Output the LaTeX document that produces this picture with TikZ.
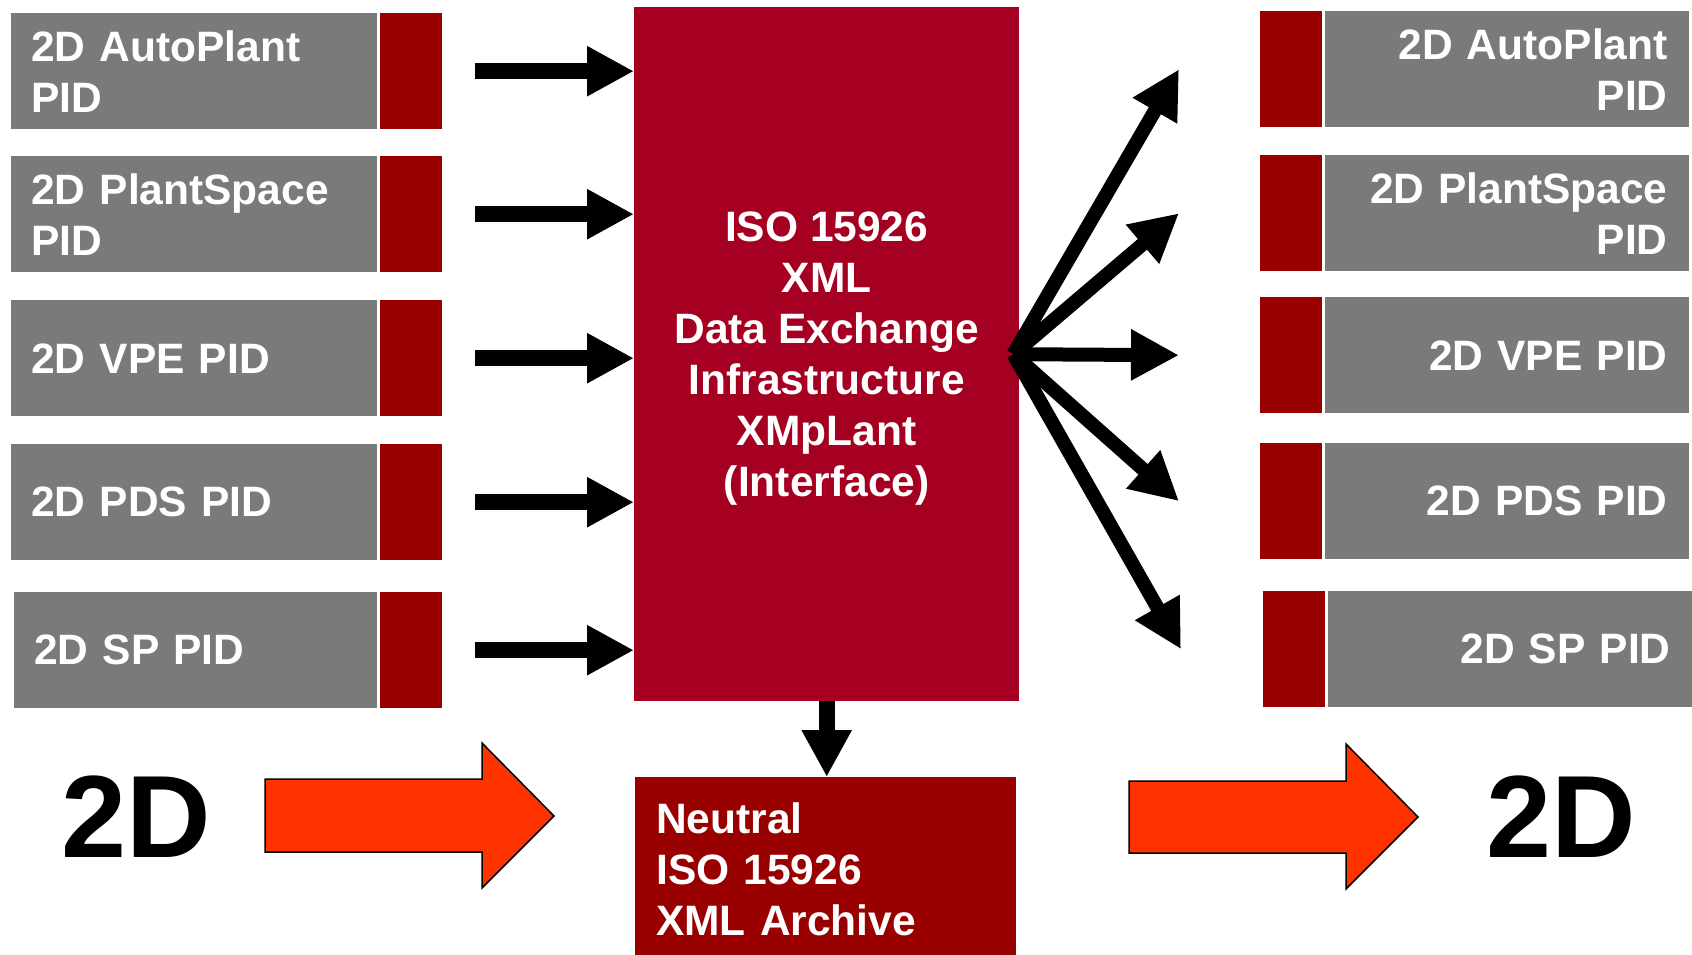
\documentclass[tikz,border=0pt]{standalone}
\usepackage{fontspec}
\setmainfont{Liberation Sans}
\usetikzlibrary{positioning,arrows.meta}
\definecolor{hubred}{RGB}{165,0,33}
\definecolor{tabred}{RGB}{153,0,0}
\definecolor{boxgray}{RGB}{122,122,122}
\definecolor{naranja}{RGB}{255,51,0}
\tikzset{
	txt/.style={font=\fontsize{42.5}{51}\selectfont\bfseries,text=white},
	srcbox/.style={txt,fill=boxgray,minimum height=116pt,inner xsep=20pt,inner ysep=0pt,text width=326pt,align=left,anchor=north west},
	dstbox/.style={txt,fill=boxgray,minimum height=116pt,inner xsep=21pt,inner ysep=0pt,text width=322pt,align=right},
	tabbox/.style={fill=tabred,minimum width=62pt,minimum height=116pt,inner sep=0pt},
	hubbox/.style={txt,fill=hubred,minimum width=385pt,minimum height=694pt,inner sep=0pt,text depth=0pt,align=center,anchor=north west},
	archbox/.style={txt,fill=tabred,minimum width=381pt,minimum height=185pt,inner xsep=21pt,inner ysep=0pt,text width=339pt,align=left,anchor=north west},
	flow/.style={line width=16pt,-{Triangle[length=47pt,width=47pt]}},
	fanarrow/.style={line width=14pt,-{Triangle[length=48pt,width=48pt]}},
	bigtext/.style={font=\fontsize{117}{117}\selectfont\bfseries,inner sep=0pt},
	bigarrow/.style={fill=naranja,draw=black,line width=1.5pt}
}
\begin{document}
\begin{tikzpicture}[x=1pt,y=-1pt]
			\useasboundingbox (0,0) rectangle (1692,955);

			% Entradas
			\node[srcbox] (srcA) at (11,13) {2D AutoPlant\\PID};
			\node[tabbox,right=2pt of srcA] (tabA) {};
			\node[srcbox] (srcB) at (11,156) {2D PlantSpace\\PID};
			\node[tabbox,right=2pt of srcB] (tabB) {};
			\node[srcbox] (srcC) at (11,300) {2D VPE PID};
			\node[tabbox,right=2pt of srcC] (tabC) {};
			\node[srcbox] (srcD) at (11,444) {2D PDS PID};
			\node[tabbox,right=2pt of srcD] (tabD) {};
			\node[srcbox,text width=323pt] (srcE) at (14,592) {2D SP PID};
			\node[tabbox,right=2pt of srcE] (tabE) {};

			% Interfaz
			\node[hubbox] (hub) at (634,7) {ISO 15926\\XML\\Data Exchange\\Infrastructure\\XMpLant\\(Interface)};
			\node[archbox] (arch) at (635,777) {Neutral\\ISO 15926\\XML Archive};

			% Salidas
			\node[tabbox,anchor=north west] (dtabA) at (1260,11) {};
			\node[dstbox,right=2pt of dtabA] (dstA) {2D AutoPlant\\PID};
			\node[tabbox,anchor=north west] (dtabB) at (1260,155) {};
			\node[dstbox,right=2pt of dtabB] (dstB) {2D PlantSpace\\PID};
			\node[tabbox,anchor=north west] (dtabC) at (1260,297) {};
			\node[dstbox,right=2pt of dtabC] (dstC) {2D VPE PID};
			\node[tabbox,anchor=north west] (dtabD) at (1260,443) {};
			\node[dstbox,right=2pt of dtabD] (dstD) {2D PDS PID};
			\node[tabbox,anchor=north west] (dtabE) at (1263,591) {};
			\node[dstbox,right=2pt of dtabE] (dstE) {2D SP PID};

			% flechas de entrada
			\draw[flow] ([xshift=33pt]tabA.east) -- (hub.west |- tabA.east);
			\draw[flow] ([xshift=33pt]tabB.east) -- (hub.west |- tabB.east);
			\draw[flow] ([xshift=33pt]tabC.east) -- (hub.west |- tabC.east);
			\draw[flow] ([xshift=33pt]tabD.east) -- (hub.west |- tabD.east);
			\draw[flow] ([xshift=33pt]tabE.east) -- (hub.west |- tabE.east);

			% abanico
			\coordinate (fan) at ([xshift=-6pt]hub.east);
			\draw[fanarrow] (fan) -- ([xshift=-81pt]dtabA.west);
			\draw[fanarrow] (fan) -- ([xshift=-81pt]dtabB.west);
			\draw[fanarrow] (fan) -- ([xshift=-81pt]dtabC.west);
			\draw[fanarrow] (fan) -- ([xshift=-81pt]dtabD.west);
			\draw[fanarrow] (fan) -- ([xshift=-82pt]dtabE.west);

			\draw[flow] (hub.south) -- (hub.south |- arch.north);

			% 2D -> 2D
			\node[bigtext] (twoDin) at (136,817) {2D};
			\node[bigtext] (twoDout) at (1561,817) {2D};
			\draw[bigarrow] (265,779) -- (482,779) -- (482,743) -- (554,816) -- (482,888) -- (482,852) -- (265,852) -- cycle;
			\draw[bigarrow] (1129,781) -- (1346,781) -- (1346,744) -- (1418,817) -- (1346,889) -- (1346,853) -- (1129,853) -- cycle;

\end{tikzpicture}
\end{document}
